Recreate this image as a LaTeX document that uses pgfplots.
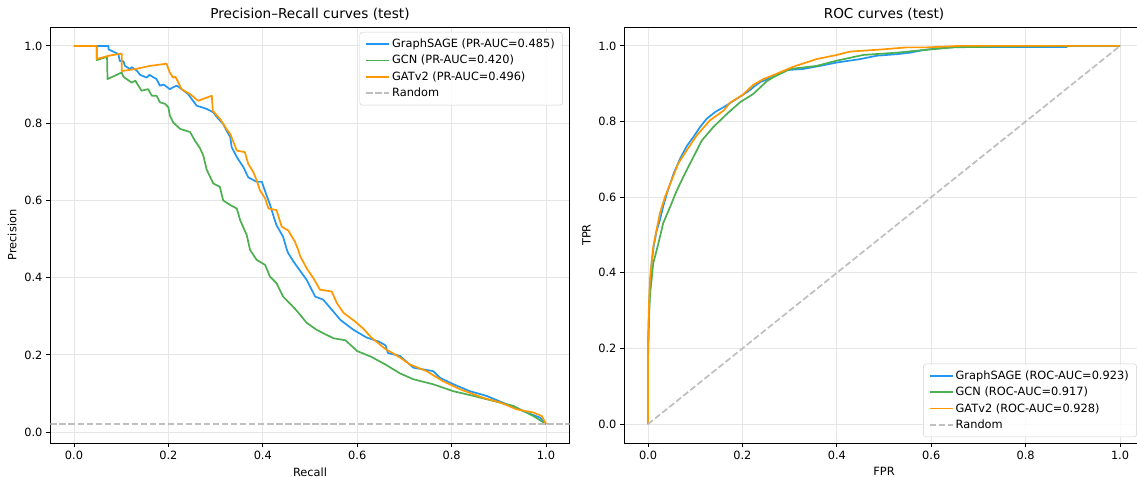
\documentclass[border=0pt]{standalone}
\usepackage{fontspec}
\setmainfont{DejaVu Sans}
\usepackage{pgfplots}
\pgfplotsset{compat=1.18}
\definecolor{cblue}{HTML}{2196F3}
\definecolor{cgreen}{HTML}{4CAF50}
\definecolor{corange}{HTML}{FF9800}
\definecolor{crand}{HTML}{BFBFBF}
\definecolor{cgrid}{HTML}{E6E6E6}
\definecolor{cleg}{HTML}{D0D0D0}

\pgfplotsset{
  curves/.style={
    width=456.9pt, height=366.1pt, scale only axis,
    xmin=-0.05, xmax=1.05,
    xtick={0,0.2,0.4,0.6,0.8,1},
    xticklabels={0.0,0.2,0.4,0.6,0.8,1.0},
    ytick={0,0.2,0.4,0.6,0.8,1},
    yticklabels={0.0,0.2,0.4,0.6,0.8,1.0},
    tick align=outside, tick pos=left, major tick length=3.5pt,
    every tick/.style={black, line width=0.8pt},
    axis line style={line width=0.8pt},
    grid=major, major grid style={cgrid, line width=0.8pt},
    tick label style={font=\fontsize{10}{12}\selectfont},
    label style={font=\fontsize{10}{12}\selectfont},
    title style={font=\fontsize{12}{14}\selectfont, yshift=-3.6pt},
    legend cell align=left,
    legend style={font=\fontsize{10}{12}\selectfont, draw=cleg,
      rounded corners=2.5pt, fill=white, fill opacity=0.8, text opacity=1,
      inner xsep=5pt, inner ysep=4pt, row sep=1.3pt},
    legend image code/.code={\draw[line width=1.5pt,#1] (0pt,0pt) -- (20pt,0pt);},
    every axis plot/.append style={line width=1.5pt, line join=round},
  },
}

\begin{document}
\begin{tikzpicture}
\path[use as bounding box] (0,0) rectangle (1000.56pt,419.76pt);

% precision-recall
\begin{axis}[curves, at={(44.35pt,29.92pt)}, anchor=south west,
  ymin=-0.028, ymax=1.049,
  title={Precision–Recall curves (test)},
  xlabel={Recall}, ylabel={Precision},
  legend style={at={(0.987,0.988)}, anchor=north east},
]
\addplot[cblue] coordinates {
(0,1) (0.073,1) (0.073,0.991) (0.094,0.979) (0.097,0.961) (0.105,0.960)
(0.108,0.948) (0.119,0.940) (0.122,0.945) (0.133,0.936) (0.140,0.925)
(0.154,0.918) (0.160,0.925) (0.175,0.914) (0.182,0.897) (0.190,0.900)
(0.203,0.888) (0.210,0.893) (0.218,0.897) (0.228,0.888) (0.242,0.875)
(0.249,0.863) (0.260,0.845) (0.271,0.841) (0.281,0.837) (0.295,0.828)
(0.306,0.811) (0.316,0.798) (0.323,0.781) (0.331,0.764) (0.334,0.738)
(0.345,0.712) (0.359,0.686) (0.369,0.660) (0.387,0.648) (0.398,0.648)
(0.408,0.613) (0.415,0.590) (0.422,0.562) (0.429,0.536) (0.443,0.506)
(0.451,0.472) (0.454,0.463) (0.466,0.440) (0.479,0.418) (0.493,0.394)
(0.511,0.351) (0.528,0.343) (0.549,0.313) (0.564,0.291) (0.592,0.265)
(0.620,0.245) (0.645,0.235) (0.660,0.225) (0.665,0.205) (0.691,0.197)
(0.719,0.167) (0.761,0.158) (0.775,0.141) (0.804,0.124) (0.839,0.106)
(0.874,0.094) (0.917,0.072) (0.959,0.051) (0.987,0.038) (1.000,0.021)
};
\addlegendentry{GraphSAGE (PR-AUC=0.485)}
\addplot[cgreen] coordinates {
(0,1) (0.048,1) (0.048,0.963) (0.070,0.972) (0.071,0.914) (0.085,0.922)
(0.101,0.931) (0.105,0.920) (0.122,0.905) (0.130,0.910) (0.143,0.884)
(0.157,0.888) (0.165,0.871) (0.175,0.871) (0.182,0.854) (0.193,0.850)
(0.200,0.841) (0.203,0.820) (0.210,0.802) (0.225,0.785) (0.246,0.777)
(0.256,0.755) (0.267,0.735) (0.274,0.716) (0.281,0.680) (0.295,0.644)
(0.309,0.635) (0.316,0.600) (0.331,0.588) (0.345,0.579) (0.352,0.549)
(0.366,0.510) (0.373,0.472) (0.387,0.446) (0.405,0.433) (0.415,0.403)
(0.429,0.386) (0.443,0.351) (0.460,0.330) (0.472,0.314) (0.479,0.304)
(0.493,0.283) (0.514,0.265) (0.530,0.255) (0.550,0.243) (0.575,0.238)
(0.600,0.210) (0.630,0.195) (0.660,0.175) (0.691,0.152) (0.719,0.137)
(0.761,0.124) (0.804,0.106) (0.846,0.094) (0.888,0.081) (0.931,0.068)
(0.973,0.042) (1.000,0.021)
};
\addlegendentry{GCN (PR-AUC=0.420)}
\addplot[corange] coordinates {
(0,1) (0.048,1) (0.048,0.966) (0.075,0.975) (0.101,0.980) (0.101,0.935)
(0.130,0.940) (0.160,0.948) (0.196,0.954) (0.203,0.931) (0.210,0.918)
(0.215,0.920) (0.228,0.888) (0.246,0.875) (0.263,0.858) (0.292,0.871)
(0.294,0.832) (0.310,0.810) (0.323,0.785) (0.331,0.772) (0.345,0.729)
(0.362,0.725) (0.369,0.695) (0.380,0.673) (0.387,0.652) (0.394,0.626)
(0.405,0.605) (0.412,0.579) (0.429,0.575) (0.440,0.532) (0.454,0.522)
(0.468,0.493) (0.475,0.472) (0.479,0.456) (0.493,0.424) (0.507,0.399)
(0.521,0.369) (0.546,0.364) (0.557,0.334) (0.571,0.309) (0.595,0.287)
(0.613,0.268) (0.630,0.245) (0.645,0.230) (0.660,0.215) (0.675,0.205)
(0.691,0.193) (0.712,0.175) (0.747,0.158) (0.782,0.132) (0.818,0.111)
(0.867,0.089) (0.903,0.077) (0.938,0.059) (0.973,0.051) (0.991,0.042)
(1.000,0.021)
};
\addlegendentry{GATv2 (PR-AUC=0.496)}
\addplot[crand, dash pattern=on 5.55pt off 2.4pt] coordinates {(-0.05,0.021) (1.05,0.021)};
\addlegendentry{Random}
\end{axis}

% ROC
\begin{axis}[curves, at={(549.5pt,29.92pt)}, anchor=south west,
  ymin=-0.05, ymax=1.05,
  title={ROC curves (test)},
  xlabel={FPR}, ylabel={TPR},
  legend style={at={(0.987,0.014)}, anchor=south east},
]
\addplot[cblue] coordinates {
(0,0) (0,0.170) (0.002,0.300) (0.004,0.360) (0.008,0.430) (0.012,0.470)
(0.018,0.510) (0.025,0.539) (0.032,0.575) (0.040,0.610) (0.054,0.662)
(0.068,0.702) (0.082,0.735) (0.096,0.759) (0.110,0.785) (0.124,0.807)
(0.142,0.825) (0.160,0.838) (0.188,0.860) (0.210,0.878) (0.237,0.904)
(0.265,0.918) (0.294,0.936) (0.329,0.939) (0.364,0.947) (0.400,0.956)
(0.449,0.965) (0.485,0.974) (0.527,0.978) (0.555,0.982) (0.583,0.989)
(0.619,0.994) (0.650,0.997) (0.887,0.997) (0.887,1.000) (1,1)
};
\addlegendentry{GraphSAGE (ROC-AUC=0.923)}
\addplot[cgreen] coordinates {
(0,0) (0,0.206) (0.002,0.280) (0.004,0.338) (0.011,0.425) (0.022,0.478)
(0.032,0.531) (0.047,0.575) (0.061,0.618) (0.078,0.662) (0.096,0.706)
(0.114,0.750) (0.138,0.785) (0.167,0.820) (0.195,0.851) (0.223,0.873)
(0.251,0.906) (0.265,0.917) (0.301,0.939) (0.357,0.947) (0.400,0.961)
(0.456,0.976) (0.527,0.982) (0.583,0.989) (0.647,0.996) (0.730,0.998)
(0.900,1.000) (1,1)
};
\addlegendentry{GCN (ROC-AUC=0.917)}
\addplot[corange] coordinates {
(0,0) (0,0.206) (0.002,0.320) (0.004,0.382) (0.011,0.469) (0.018,0.513)
(0.025,0.557) (0.036,0.601) (0.050,0.645) (0.064,0.689) (0.082,0.724)
(0.103,0.763) (0.131,0.803) (0.160,0.829) (0.174,0.850) (0.200,0.870)
(0.223,0.897) (0.244,0.912) (0.270,0.925) (0.308,0.945) (0.357,0.965)
(0.400,0.976) (0.428,0.985) (0.477,0.989) (0.499,0.991) (0.548,0.996)
(0.590,0.996) (0.661,1.000) (1,1)
};
\addlegendentry{GATv2 (ROC-AUC=0.928)}
\addplot[crand, dash pattern=on 5.55pt off 2.4pt] coordinates {(0,0) (1,1)};
\addlegendentry{Random}
\end{axis}
\end{tikzpicture}
\end{document}
